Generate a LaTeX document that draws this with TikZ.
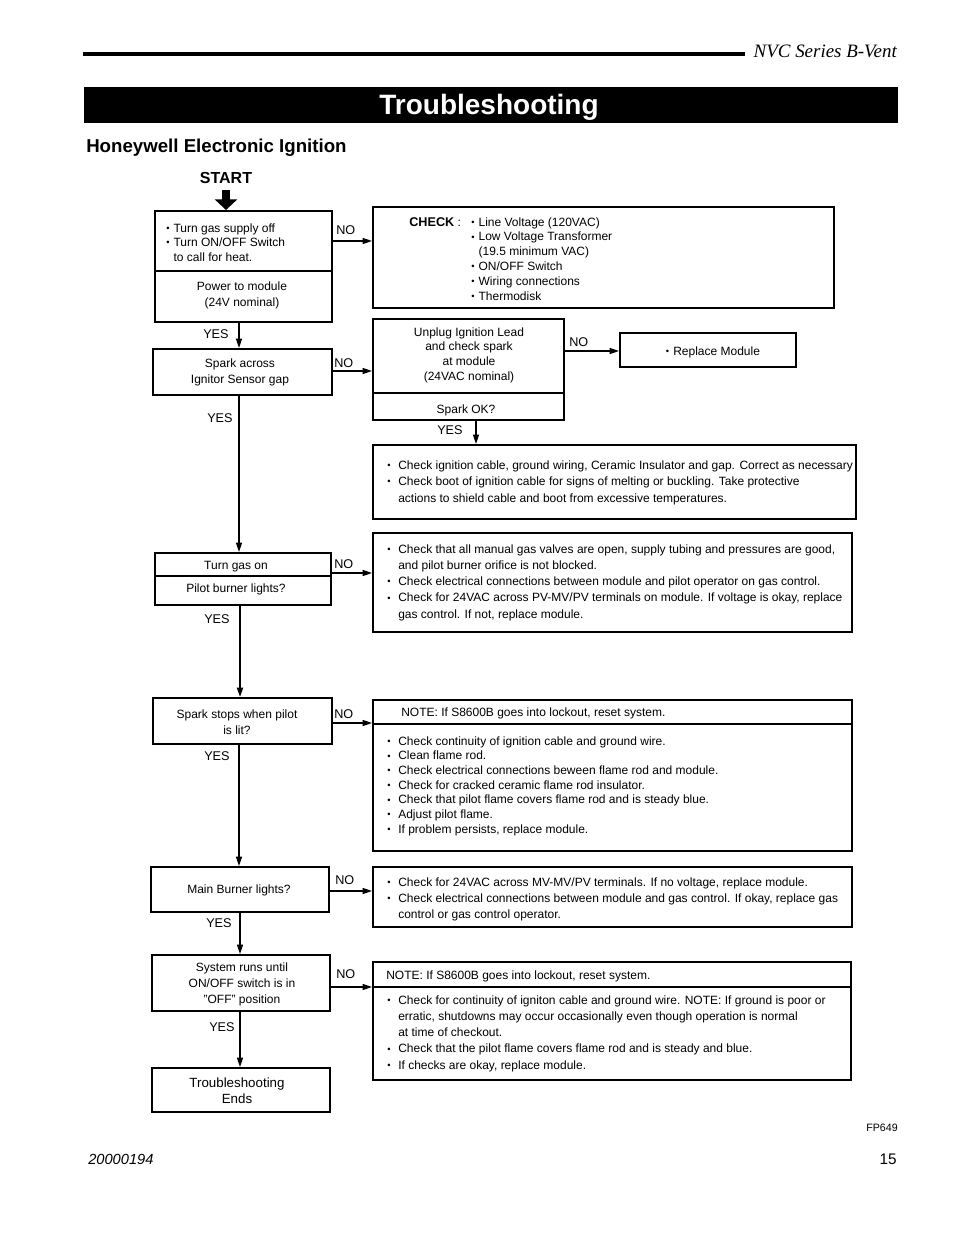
\documentclass[tikz,border=0pt]{standalone}
\usepackage{fontspec}
\setmainfont{Liberation Sans}
\newfontfamily\serifit{Liberation Serif}
\usetikzlibrary{arrows.meta,fit}
\newcommand\bw{8.25pt}
\newcommand\sw{5.5pt}
\newcommand\dotb{{\fontsize{7}{7}\selectfont\raisebox{0.5pt}{•}}}
\newcommand\bu{\makebox[\bw][l]{\dotb}}
\newcommand\cu{\hspace*{\bw}}
\newcommand\bs{\makebox[\sw][l]{\dotb}}
\newcommand\cs{\hspace*{\sw}}
\newcommand\tl[2][11]{\fontsize{9}{#1}\selectfont\begin{tabular}[t]{@{}l@{}}#2\end{tabular}}
\newcommand\tc[2][11]{\fontsize{9}{#1}\selectfont\begin{tabular}[t]{@{}c@{}}#2\end{tabular}}
\tikzset{
  box/.style={draw,line width=1.5pt,inner sep=0pt},
  div/.style={line width=1.5pt},
  thindiv/.style={line width=0.9pt},
  txt/.style={inner sep=0pt,font=\fontsize{9}{11}\selectfont},
  lbl/.style={inner sep=0pt,anchor=base west,font=\fontsize{9.5}{11}\selectfont},
  arr/.style={line width=0.9pt,-{Triangle[length=7pt,width=4.5pt]}},
}
\begin{document}
\begin{tikzpicture}[x=0.75pt,y=-0.75pt]
\useasboundingbox (0,0) rectangle (954,1235);
% header
\coordinate (rl) at (83,54);
\coordinate (rr) at (745,54);
\draw[line width=3pt] (rl) -- (rr);
\node[inner sep=0pt,anchor=base east,font=\serifit\itshape\fontsize{14.2}{16}\selectfont] (series) at (897,57) {NVC Series B-Vent};
\node[fill=black,inner sep=0pt,fit={(84,87) (898,123)}] (bar) {};
\node[inner sep=0pt,anchor=base,text=white,font=\bfseries\fontsize{21}{24}\selectfont] (title) at (489,114) {Troubleshooting};
\node[inner sep=0pt,anchor=base west,font=\bfseries\fontsize{14}{16}\selectfont] (sub) at (86,152) {Honeywell Electronic Ignition};
\node[inner sep=0pt,anchor=base,font=\bfseries\fontsize{12}{14}\selectfont] (start) at (226,183) {START};
% boxes
\node[box,fit={(155,211) (332,322)}] (b1) {};
\node[box,fit={(373,207) (834,308)}] (chk) {};
\node[box,fit={(153,349) (332,395)}] (b2) {};
\node[box,fit={(373,319) (564,420)}] (b3) {};
\node[box,fit={(620,333) (796,367)}] (b4) {};
\node[box,fit={(373,445) (856,519)}] (b5) {};
\node[box,fit={(155,553) (331,605)}] (b6) {};
\node[box,fit={(373,533) (852,632)}] (b7) {};
\node[box,fit={(153,698) (332,744)}] (b8) {};
\node[box,fit={(373,700) (852,851)}] (b9) {};
\node[box,fit={(151,867) (329,912)}] (b10) {};
\node[box,fit={(373,867) (852,927)}] (b11) {};
\node[box,fit={(152,955) (330,1011)}] (b12) {};
\node[box,fit={(373,962) (851,1080)}] (b13) {};
\node[box,fit={(152,1068) (330,1112)}] (b14) {};
% dividers
\draw[div] (b1.west |- 0,271) -- (b1.east |- 0,271);
\draw[div] (b3.west |- 0,393) -- (b3.east |- 0,393);
\draw[thindiv] (b6.west |- 0,576) -- (b6.east |- 0,576);
\draw[thindiv] (b9.west |- 0,724) -- (b9.east |- 0,724);
\draw[div] (b13.west |- 0,987) -- (b13.east |- 0,987);
% texts
\node[txt,anchor=base west] (t1a) at (166,232) {\tl[10.9]{\bs Turn gas supply off\\ \bs Turn ON/OFF Switch\\ \cs to call for heat.}};
\node[txt,anchor=base] (t1b) at (242,290) {\tc[12]{Power to module\\(24V nominal)}};
\node[inner sep=0pt,anchor=base west,font=\bfseries\fontsize{9.5}{11}\selectfont] (chkh) at (409,226) {CHECK\mdseries\fontsize{9}{11}\selectfont\ :};
\node[txt,anchor=base west] (chkl) at (471,226) {\tl[11.1]{\bs Line Voltage (120VAC)\\ \bs Low Voltage Transformer\\ \cs (19.5 minimum VAC)\\ \bs ON/OFF Switch\\ \bs Wiring connections\\ \bs Thermodisk}};
\node[txt,anchor=base] (t2) at (240,367) {\tc[12]{Spark across\\Ignitor Sensor gap}};
\node[txt,anchor=base] (t3a) at (469,336) {\tc[11]{Unplug Ignition Lead\\and check spark\\at module\\(24VAC nominal)}};
\node[txt,anchor=base] (t3b) at (466,413) {Spark OK?};
\node[txt,anchor=base] (t4) at (713,355) {\bs Replace Module};
\node[txt,anchor=base west] (t5) at (387,469) {\tl[12.4]{\bu Check ignition cable, ground wiring, Ceramic Insulator and gap. Correct as necessary\\ \bu Check boot of ignition cable for signs of melting or buckling. Take protective\\ \cu actions to shield cable and boot from excessive temperatures.}};
\node[txt,anchor=base] (t6a) at (236,569) {Turn gas on};
\node[txt,anchor=base] (t6b) at (236,592) {Pilot burner lights?};
\node[txt,anchor=base west] (t7) at (387,553) {\tl[12.2]{\bu Check that all manual gas valves are open, supply tubing and pressures are good,\\ \cu and pilot burner orifice is not blocked.\\ \bu Check electrical connections between module and pilot operator on gas control.\\ \bu Check for 24VAC across PV-MV/PV terminals on module. If voltage is okay, replace\\ \cu gas control. If not, replace module.}};
\node[txt,anchor=base] (t8) at (237,718) {\tc[12]{Spark stops when pilot\\is lit?}};
\node[txt,anchor=base west] (t9a) at (401,716) {NOTE: If S8600B goes into lockout, reset system.};
\node[txt,anchor=base west] (t9b) at (387,745) {\tl[11]{\bu Check continuity of ignition cable and ground wire.\\ \bu Clean flame rod.\\ \bu Check electrical connections beween flame rod and module.\\ \bu Check for cracked ceramic flame rod insulator.\\ \bu Check that pilot flame covers flame rod and is steady blue.\\ \bu Adjust pilot flame.\\ \bu If problem persists, replace module.}};
\node[txt,anchor=base] (t10) at (239,893) {Main Burner lights?};
\node[txt,anchor=base west] (t11) at (387,886) {\tl[12]{\bu Check for 24VAC across MV-MV/PV terminals. If no voltage, replace module.\\ \bu Check electrical connections between module and gas control. If okay, replace gas\\ \cu control or gas control operator.}};
\node[txt,anchor=base] (t12) at (242,971) {\tc[12]{System runs until\\ON/OFF switch is in\\\symbol{34}OFF\symbol{34} position}};
\node[txt,anchor=base west] (t13a) at (386,979) {NOTE: If S8600B goes into lockout, reset system.};
\node[txt,anchor=base west] (t13b) at (387,1004) {\tl[12.2]{\bu Check for continuity of igniton cable and ground wire. NOTE: If ground is poor or\\ \cu erratic, shutdowns may occur occasionally even though operation is normal\\ \cu at time of checkout.\\ \bu Check that the pilot flame covers flame rod and is steady and blue.\\ \bu If checks are okay, replace module.}};
\node[inner sep=0pt,anchor=base,font=\fontsize{10}{12}\selectfont] (t14) at (237,1087) {\begin{tabular}[t]{@{}c@{}}Troubleshooting\\Ends\end{tabular}};
% labels
\node[lbl] (n1) at (336,234) {NO};
\node[lbl] (y1) at (203,338) {YES};
\node[lbl] (n2) at (334,367) {NO};
\node[lbl] (n3) at (569,346) {NO};
\node[lbl] (y3) at (437,434) {YES};
\node[lbl] (y2) at (207,422) {YES};
\node[lbl] (n6) at (334,568) {NO};
\node[lbl] (y6) at (204,623) {YES};
\node[lbl] (n8) at (334,718) {NO};
\node[lbl] (y8) at (204,760) {YES};
\node[lbl] (n10) at (335,884) {NO};
\node[lbl] (y10) at (206,927) {YES};
\node[lbl] (n12) at (336,978) {NO};
\node[lbl] (y12) at (209,1031) {YES};
% footer
\node[inner sep=0pt,anchor=base east,font=\fontsize{8}{9}\selectfont] (fp) at (898,1131) {FP649};
\node[inner sep=0pt,anchor=base west,font=\itshape\fontsize{11}{13}\selectfont] (doc) at (88,1164) {20000194};
\node[inner sep=0pt,anchor=base east,font=\fontsize{11.5}{13}\selectfont] (pg) at (897,1164) {15};
% connectors
\draw[line width=6pt,-{Triangle[length=8pt,width=16.5pt]}] (start.south |- 0,190) -- (start.south |- b1.north);
\draw[arr] (b1.east |- 0,241) -- (chk.west |- 0,241);
\draw[arr] (b1.south -| 239,0) -- (b2.north -| 239,0);
\draw[arr] (b2.east |- 0,371) -- (b3.west |- 0,371);
\draw[arr] (b3.east |- 0,351) -- (b4.west |- 0,351);
\draw[arr] (b3.south -| 476,0) -- (b5.north -| 476,0);
\draw[arr] (b2.south -| 239,0) -- (b6.north -| 239,0);
\draw[arr] (b6.east |- 0,573) -- (b7.west |- 0,573);
\draw[arr,line width=1.5pt] (b6.south -| 240,0) -- (b8.north -| 240,0);
\draw[arr] (b8.east |- 0,723) -- (b9.west |- 0,723);
\draw[arr] (b8.south -| 239,0) -- (b10.north -| 239,0);
\draw[arr] (b10.east |- 0,891) -- (b11.west |- 0,891);
\draw[arr] (b10.south -| 240,0) -- (b12.north -| 240,0);
\draw[arr] (b12.east |- 0,987) -- (b13.west |- 0,987);
\draw[arr] (b12.south -| 240,0) -- (b14.north -| 240,0);
\end{tikzpicture}
\end{document}
